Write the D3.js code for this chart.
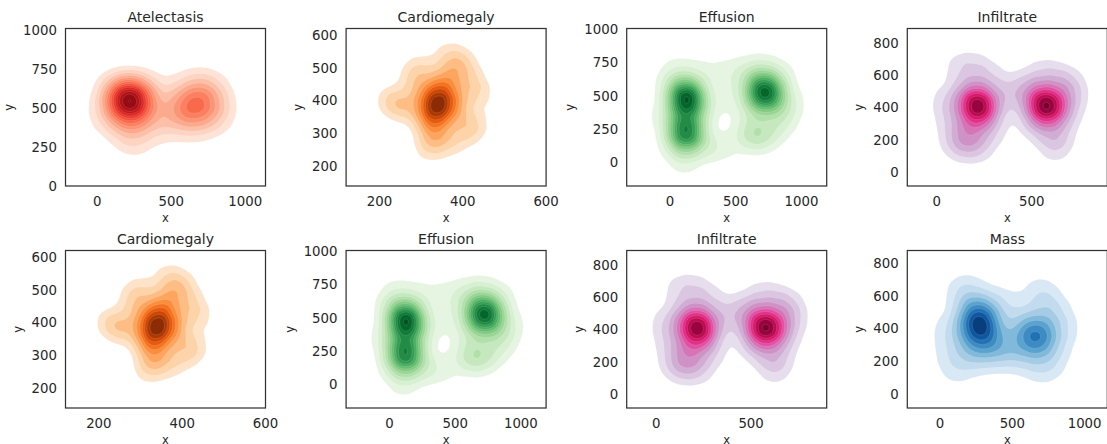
<!DOCTYPE html>
<html>
<head>
<meta charset="utf-8">
<script src="https://cdn.jsdelivr.net/npm/d3@7"></script>
<style>
body { margin: 0; background: #fff; }
text { font-family: "DejaVu Sans", sans-serif; fill: #262626; }
</style>
</head>
<body>
<svg width="1107" height="444"></svg>
<script>
// estimated case locations [x, y, count] per finding
var atelectasis = [
  [220, 550, 6], [195, 575, 2], [245, 525, 2],
  [170, 610, 1], [280, 590, 1], [150, 510, 1], [270, 460, 1], [230, 420, 1], [130, 590, 1], [300, 540, 1], [190, 470, 1],
  [60, 520, 1], [90, 620, 1], [230, 650, 1], [330, 630, 1], [350, 450, 1], [240, 330, 1], [160, 380, 1], [40, 430, 1], [250, 280, 1],
  [650, 520, 2], [620, 490, 1], [690, 560, 1], [600, 470, 1], [720, 600, 1], [760, 540, 1], [560, 540, 1], [680, 450, 1],
  [790, 630, 1], [830, 530, 1], [640, 370, 1], [590, 630, 1], [760, 430, 1], [680, 660, 1], [540, 440, 1], [820, 440, 1],
  [430, 580, 1], [450, 450, 1], [420, 360, 1]
];
var cardiomegaly = [
  [335, 380, 3], [340, 410, 2], [330, 350, 2], [350, 440, 2], [355, 470, 1], [370, 385, 2], [385, 355, 1],
  [310, 400, 1], [315, 335, 1], [300, 430, 1], [395, 420, 1], [380, 490, 1], [345, 310, 1], [325, 285, 1], [320, 255, 1], [365, 540, 1],
  [225, 400, 1], [245, 390, 1], [280, 470, 1], [300, 500, 1], [420, 470, 1], [440, 420, 1], [430, 330, 1], [410, 300, 1],
  [370, 270, 1], [270, 370, 1], [400, 520, 1]
];
var effusion = [
  [125, 470, 4], [110, 510, 2], [140, 430, 2], [120, 490, 1],
  [125, 215, 4], [110, 250, 2], [150, 190, 1], [125, 340, 1],
  [80, 580, 1], [170, 560, 1], [60, 400, 1], [200, 470, 1], [60, 250, 1], [200, 230, 1], [120, 100, 1],
  [-60, 350, 1], [-20, 560, 1], [0, 150, 1], [280, 380, 1], [40, 700, 1], [220, 680, 1], [280, 100, 1], [100, 0, 1],
  [720, 520, 4], [700, 560, 2], [740, 480, 2],
  [690, 630, 1], [780, 580, 1], [650, 470, 1], [770, 420, 1], [610, 580, 1], [830, 500, 1],
  [720, 720, 1], [860, 660, 1], [580, 700, 1], [930, 450, 1], [600, 400, 1],
  [660, 220, 1], [730, 180, 1], [600, 170, 1], [800, 260, 1], [880, 320, 1], [600, 250, 1],
  [420, 680, 1], [430, 500, 1], [400, 120, 1]
];
var infiltrate = [
  [222, 410, 3], [200, 430, 2], [245, 390, 2],
  [180, 360, 1], [160, 290, 1], [190, 240, 1], [270, 460, 1], [130, 430, 1], [260, 330, 1], [150, 500, 1], [210, 520, 1],
  [110, 650, 1], [200, 660, 1], [280, 600, 1], [60, 330, 1], [80, 200, 1], [130, 150, 1], [170, 200, 1], [230, 140, 1], [40, 450, 1], [300, 250, 1],
  [575, 415, 3], [550, 435, 2], [600, 395, 2],
  [540, 350, 1], [620, 470, 1], [500, 420, 1], [660, 420, 1], [530, 500, 1], [610, 330, 1],
  [640, 580, 1], [700, 360, 1], [580, 240, 1], [660, 220, 1], [500, 290, 1], [730, 480, 1], [620, 140, 1], [700, 560, 1],
  [480, 550, 1], [560, 620, 1],
  [380, 430, 1], [390, 520, 1]
];
var mass = [
  [280, 430, 3], [265, 480, 2], [295, 380, 2],
  [240, 400, 1], [320, 450, 1], [290, 300, 1], [340, 270, 1], [220, 330, 1], [200, 500, 1], [250, 540, 1], [370, 330, 1],
  [180, 250, 1], [250, 200, 1], [130, 400, 1], [130, 620, 1], [200, 650, 1], [50, 250, 1], [100, 130, 1], [350, 570, 1],
  [420, 220, 1], [460, 310, 1], [40, 400, 1],
  [670, 345, 3], [645, 375, 1], [700, 315, 1],
  [620, 300, 1], [720, 400, 1], [690, 480, 1],
  [740, 580, 1], [820, 300, 1], [600, 200, 1], [780, 180, 1], [870, 400, 1], [560, 420, 1], [680, 640, 1], [820, 500, 1], [700, 150, 1],
  [500, 260, 1], [470, 560, 1], [530, 420, 1]
];

var titles = ["Atelectasis", "Cardiomegaly", "Effusion", "Infiltrate", "Cardiomegaly", "Effusion", "Infiltrate", "Mass"];
var ticksWide = [0, 500, 1000];
var ticksCardioX = [200, 400, 600];
var ticksCardioY = [200, 300, 400, 500, 600];
var ticksQuarter = [0, 250, 500, 750, 1000];
var ticksInfX = [0, 500];
var ticksInfY = [0, 200, 400, 600, 800];

var sets = {
  Atelectasis: { pts: atelectasis, xd: [-215, 1137], yd: [3, 1008], xt: ticksWide, yt: ticksQuarter, cmap: d3.interpolateReds, bw: 85 },
  Cardiomegaly: { pts: cardiomegaly, xd: [120, 600], yd: [138, 621], xt: ticksCardioX, yt: ticksCardioY, cmap: d3.interpolateOranges, bw: 28 },
  Effusion: { pts: effusion, xd: [-330, 1192], yd: [-178, 1007], xt: ticksWide, yt: ticksQuarter, cmap: d3.interpolateGreens, bw: 85 },
  Infiltrate: { pts: infiltrate, xd: [-155, 898], yd: [-85, 888], xt: ticksInfX, yt: ticksInfY, cmap: d3.interpolatePuRd, bw: 64 },
  Mass: { pts: mass, xd: [-227, 1157], yd: [-86, 878], xt: ticksWide, yt: ticksInfY, cmap: d3.interpolateBlues, bw: 80 }
};

var svg = d3.select("svg");
var W = 200, H = 157.5;

titles.forEach(function (name, i) {
  var p = sets[name];
  var col = i % 4, row = Math.floor(i / 4);
  var ox = 65.5 + col * 280.6, oy = 28.5 + row * 222;
  var g = svg.append("g").attr("transform", "translate(" + ox + "," + oy + ")");

  var x = d3.scaleLinear().domain(p.xd).range([0, W]);
  var y = d3.scaleLinear().domain(p.yd).range([H, 0]);
  var bwPx = p.bw * (Math.abs(x(1) - x(0)) + Math.abs(y(1) - y(0))) / 2;

  var density = d3.contourDensity()
    .x(function (d) { return x(d[0]); })
    .y(function (d) { return y(d[1]); })
    .weight(function (d) { return d[2]; })
    .size([W, H])
    .cellSize(1)
    .bandwidth(bwPx);
  var contour = density.contours(p.pts);

  var levels = d3.ticks(0, contour.max, 10);
  var step = levels[1] - levels[0];
  if (levels[levels.length - 1] < contour.max) levels.push(levels[levels.length - 1] + step);
  var vmax = levels[levels.length - 1];

  g.append("clipPath").attr("id", "clip" + i)
    .append("rect").attr("width", W).attr("height", H);
  var fills = g.append("g").attr("clip-path", "url(#clip" + i + ")");
  var path = d3.geoPath();
  // lowest band is left unshaded
  for (var k = 1; k < levels.length - 1; k++) {
    fills.append("path")
      .attr("d", path(contour(levels[k])))
      .attr("fill", p.cmap((levels[k] + levels[k + 1]) / 2 / vmax))
      .attr("stroke", "#fff")
      .attr("stroke-width", 0.4)
      .attr("stroke-opacity", 0.3);
  }

  g.append("rect")
    .attr("width", W).attr("height", H)
    .attr("fill", "none").attr("stroke", "#333").attr("stroke-width", 1.25);

  g.selectAll(".xt").data(p.xt).enter().append("text")
    .attr("x", function (d) { return x(d); })
    .attr("y", H + 19.5)
    .attr("text-anchor", "middle")
    .style("font-size", "13.3px")
    .text(function (d) { return d; });

  var maxW = 0;
  g.selectAll(".yt").data(p.yt).enter().append("text")
    .attr("x", -8.6)
    .attr("y", function (d) { return y(d); })
    .attr("dy", "0.36em")
    .attr("text-anchor", "end")
    .style("font-size", "13.3px")
    .text(function (d) { return d; })
    .each(function () { maxW = Math.max(maxW, this.getComputedTextLength()); });

  g.append("text")
    .attr("x", W / 2).attr("y", H + 35.5)
    .attr("text-anchor", "middle")
    .style("font-size", "11.5px")
    .text("x");

  var lx = -8.6 - maxW - 10;
  g.append("text")
    .attr("transform", "translate(" + lx + "," + (H / 2) + ") rotate(-90)")
    .attr("text-anchor", "middle")
    .style("font-size", "11.5px")
    .text("y");

  g.append("text")
    .attr("x", W / 2).attr("y", -7)
    .attr("text-anchor", "middle")
    .style("font-size", "14px")
    .text(name);
});
</script>
</body>
</html>
